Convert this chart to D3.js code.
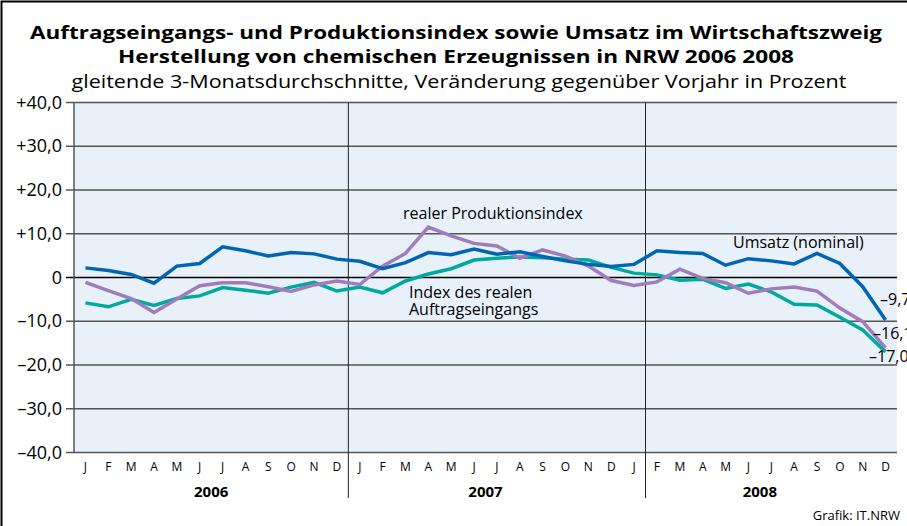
<!DOCTYPE html>
<html>
<head>
<meta charset="utf-8">
<script src="https://cdn.jsdelivr.net/npm/d3@7"></script>
<style>
  body { margin: 0; background: #fff; }
  text { font-family: "Open Sans", "Noto Sans", sans-serif; }
</style>
</head>
<body>
<div id="chart"></div>
<script>
// Chart size
var width = 907;
var height = 526;

// Month labels (36 months, 2006-2008)
var monthNames = ["J","F","M","A","M","J","J","A","S","O","N","D"];
var years = ["2006", "2007", "2008"];
var yTicks = [40, 30, 20, 10, 0, -10, -20, -30, -40];

// Series values (Veränderung gegenüber Vorjahr in %)
var umsatz = [2.2, 1.6, 0.7, -1.3, 2.6, 3.2, 7.0, 6.1, 4.9, 5.7, 5.4, 4.2,
              3.7, 2.0, 3.4, 5.7, 5.2, 6.5, 5.3, 5.9, 4.8, 3.8, 3.0, 2.5,
              3.0, 6.1, 5.7, 5.5, 2.8, 4.3, 3.8, 3.1, 5.5, 3.2, -2.1, -9.7];
var auftrag = [-5.8, -6.7, -5.0, -6.4, -4.8, -4.2, -2.3, -2.9, -3.6, -2.2, -1.1, -3.1,
               -2.2, -3.5, -0.8, 0.8, 2.0, 4.0, 4.4, 4.7, 4.5, 4.2, 4.0, 2.3,
               1.0, 0.6, -0.6, -0.4, -2.5, -1.5, -3.3, -6.1, -6.3, -9.1, -12.0, -17.0];
var produktion = [-1.1, -3.0, -4.8, -8.0, -4.9, -1.9, -1.2, -1.2, -2.1, -3.2, -1.7, -0.8,
                  -1.6, 2.6, 5.5, 11.5, 9.5, 7.8, 7.2, 4.4, 6.3, 4.9, 2.6, -0.7,
                  -1.8, -1.0, 1.9, -0.2, -1.2, -3.6, -2.6, -2.2, -3.1, -7.0, -10.1, -16.1];

var endLabels = ["–9,7", "–16,1", "–17,0"];

// Plot area
var plotLeft = 74, plotRight = 897, plotTop = 102.5, plotBottom = 452.5;

var svg = d3.select("#chart")
  .append("svg")
  .attr("width", width)
  .attr("height", height);

var idx = d3.range(36);
var x = d3.scaleBand().domain(idx).range([plotLeft, plotRight]).padding(0);
var bw = x.bandwidth();
var cx = function(i){ return x(i) + bw / 2; };
var y = d3.scaleLinear().domain([-40, 40]).range([plotBottom, plotTop]);

// Outer frame
svg.append("rect")
  .attr("x", 1.5).attr("y", 1.5)
  .attr("width", width + 10).attr("height", height + 10)
  .style("fill", "none").style("stroke", "#000").style("stroke-width", 2);

// Titles
svg.append("text").attr("x", 456).attr("y", 39)
  .attr("text-anchor", "middle").attr("textLength", 852).attr("lengthAdjust", "spacingAndGlyphs")
  .style("font-size", "18px").style("font-weight", "bold")
  .text("Auftragseingangs- und Produktionsindex sowie Umsatz im Wirtschaftszweig");
svg.append("text").attr("x", 456).attr("y", 63)
  .attr("text-anchor", "middle").attr("textLength", 676).attr("lengthAdjust", "spacingAndGlyphs")
  .style("font-size", "18px").style("font-weight", "bold")
  .text("Herstellung von chemischen Erzeugnissen in NRW 2006 2008");
svg.append("text").attr("x", 459).attr("y", 88)
  .attr("text-anchor", "middle").attr("textLength", 775).attr("lengthAdjust", "spacingAndGlyphs")
  .style("font-size", "19px")
  .text("gleitende 3-Monatsdurchschnitte, Veränderung gegenüber Vorjahr in Prozent");

// Plot background
svg.append("rect")
  .attr("x", plotLeft).attr("y", plotTop)
  .attr("width", plotRight - plotLeft).attr("height", plotBottom - plotTop)
  .style("fill", "#e8f0fa");

// Grid lines and ticks
yTicks.forEach(function(t){
  svg.append("line")
    .attr("x1", plotLeft - 8).attr("x2", plotRight)
    .attr("y1", y(t)).attr("y2", y(t))
    .style("stroke", t === 0 ? "#000" : "#555")
    .style("stroke-width", t === 0 ? 1.3 : 1.5);
  var label = t === 0 ? "0" : (t > 0 ? "+" + t + ",0" : "–" + (-t) + ",0");
  svg.append("text")
    .attr("x", 62).attr("y", y(t) + 6)
    .attr("text-anchor", "end")
    .style("font-size", "18px")
    .text(label);
});

// Left axis line
svg.append("line")
  .attr("x1", plotLeft).attr("x2", plotLeft)
  .attr("y1", plotTop).attr("y2", plotBottom)
  .style("stroke", "#555").style("stroke-width", 1.5);

// Year dividers (original places the 2008 divider after January)
[12, 25].forEach(function(b){
  svg.append("line")
    .attr("x1", x(b)).attr("x2", x(b))
    .attr("y1", plotTop).attr("y2", 498)
    .style("stroke", "#222").style("stroke-width", 1);
});

// Month labels
idx.forEach(function(i){
  svg.append("text")
    .attr("x", cx(i)).attr("y", 471)
    .attr("text-anchor", "middle")
    .style("font-size", "12px")
    .text(monthNames[i % 12]);
});

// Year labels
years.forEach(function(yr, k){
  var x0 = x(k * 12), x1 = x(k * 12 + 11) + bw;
  svg.append("text")
    .attr("x", (x0 + x1) / 2).attr("y", 497)
    .attr("text-anchor", "middle")
    .style("font-size", "15px").style("font-weight", "bold")
    .text(yr);
});

// Lines
var line = d3.line()
  .x(function(d, i){ return cx(i); })
  .y(function(d){ return y(d); });

var series = [
  {values: auftrag, color: "#00a99d"},
  {values: produktion, color: "#a07cbb"},
  {values: umsatz, color: "#0066b3"}
];
series.forEach(function(s){
  svg.append("path")
    .datum(s.values)
    .attr("d", line)
    .style("fill", "none")
    .style("stroke", s.color)
    .style("stroke-width", 3.5)
    .style("stroke-linejoin", "miter");
});

// Series labels
function label(txt, xp, yp){
  svg.append("text").attr("x", xp).attr("y", yp)
    .style("font-size", "16px").text(txt);
}
label("realer Produktionsindex", 403, 219);
label("Index des realen", 409, 298);
label("Auftragseingangs", 409, 315);
label("Umsatz (nominal)", 733, 248);

// End value labels
var last = 35;
svg.append("text").attr("x", 880).attr("y", y(umsatz[last]) - 15)
  .style("font-size", "16px").text(endLabels[0]);
svg.append("text").attr("x", 873).attr("y", y(produktion[last]) - 9)
  .style("font-size", "16px").text(endLabels[1]);
svg.append("text").attr("x", 869).attr("y", y(auftrag[last]) + 10)
  .style("font-size", "16px").text(endLabels[2]);

// Source
svg.append("text").attr("x", 900).attr("y", 520)
  .attr("text-anchor", "end")
  .style("font-size", "13px")
  .text("Grafik: IT.NRW");
</script>
</body>
</html>
